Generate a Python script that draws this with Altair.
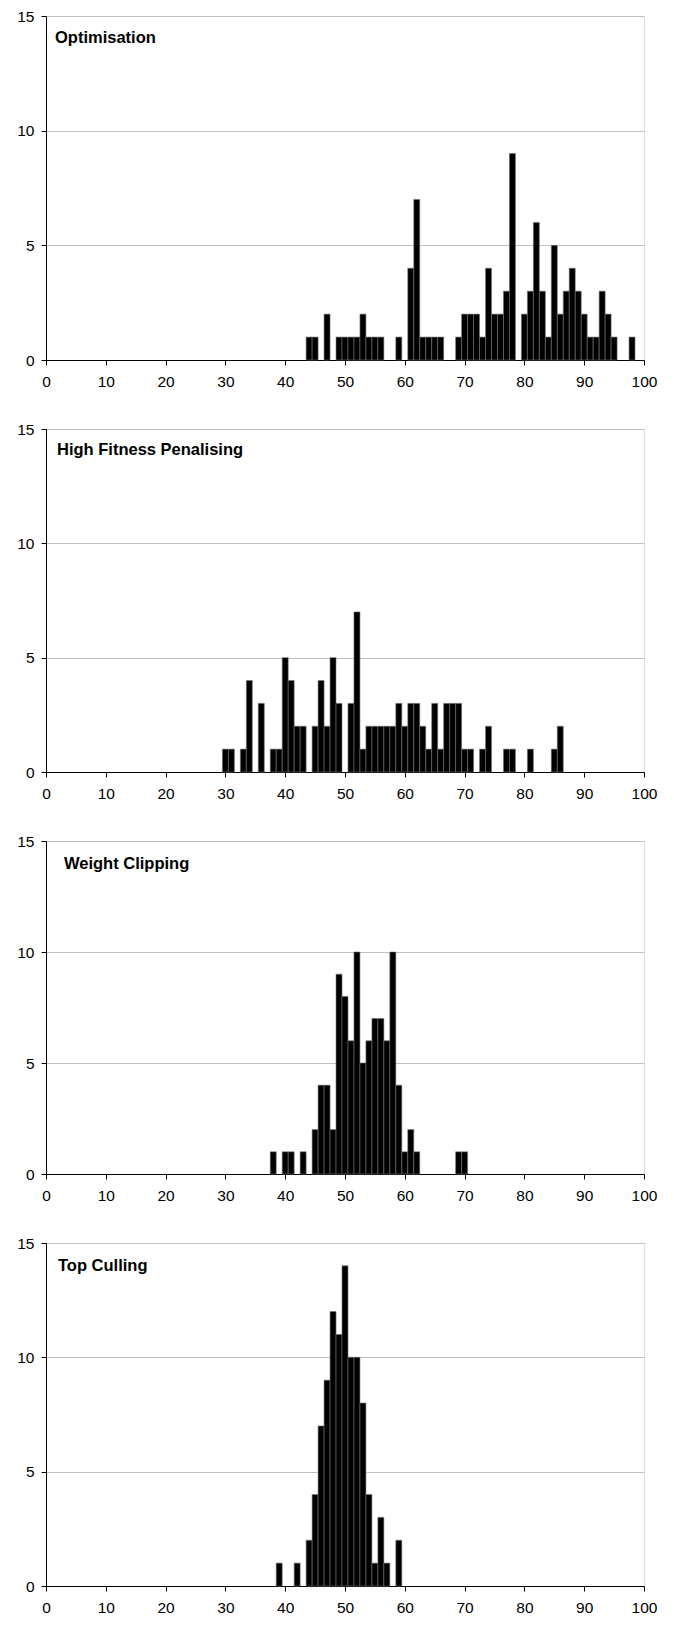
import altair as alt
import pandas as pd

# ---- data ----
opt_bins = [44, 45, 47, 49, 50, 51, 52, 53, 54, 55, 56, 59, 61, 62, 63, 64, 65, 66,
            69, 70, 71, 72, 73, 74, 75, 76, 77, 78, 80, 81, 82, 83, 84, 85, 86, 87,
            88, 89, 90, 91, 92, 93, 94, 95, 98]
opt_counts = [1, 1, 2, 1, 1, 1, 1, 2, 1, 1, 1, 1, 4, 7, 1, 1, 1, 1,
              1, 2, 2, 2, 1, 4, 2, 2, 3, 9, 2, 3, 6, 3, 1, 5, 2, 3,
              4, 3, 2, 1, 1, 3, 2, 1, 1]

hfp_bins = [30, 31, 33, 34, 36, 38, 39, 40, 41, 42, 43, 45, 46, 47, 48, 49, 51, 52,
            53, 54, 55, 56, 57, 58, 59, 60, 61, 62, 63, 64, 65, 66, 67, 68, 69, 70,
            71, 73, 74, 77, 78, 81, 85, 86]
hfp_counts = [1, 1, 1, 4, 3, 1, 1, 5, 4, 2, 2, 2, 4, 2, 5, 3, 3, 7,
              1, 2, 2, 2, 2, 2, 3, 2, 3, 3, 2, 1, 3, 1, 3, 3, 3, 1,
              1, 1, 2, 1, 1, 1, 1, 2]

wc_bins = [38, 40, 41, 43, 45, 46, 47, 48, 49, 50, 51, 52, 53, 54, 55, 56, 57, 58,
           59, 60, 61, 62, 69, 70]
wc_counts = [1, 1, 1, 1, 2, 4, 4, 2, 9, 8, 6, 10, 5, 6, 7, 7, 6, 10,
             4, 1, 2, 1, 1, 1]

tc_bins = [39, 42, 44, 45, 46, 47, 48, 49, 50, 51, 52, 53, 54, 55, 56, 57, 59]
tc_counts = [1, 1, 2, 4, 7, 9, 12, 11, 14, 10, 10, 8, 4, 1, 3, 1, 2]

titles = ["Optimisation", "High Fitness Penalising", "Weight Clipping", "Top Culling"]
x_ticks = [0, 10, 20, 30, 40, 50, 60, 70, 80, 90, 100]
y_ticks = [0, 5, 10, 15]

FONT = "Liberation Sans"

panels = [
    (titles[0], opt_bins, opt_counts, 344, 9, 27),
    (titles[1], hfp_bins, hfp_counts, 343, 11, 26),
    (titles[2], wc_bins, wc_counts, 333, 18, 28),
    (titles[3], tc_bins, tc_counts, 343, 12, 28),
]


def make_panel(title, bins, counts, h, tx, ty):
    df = pd.DataFrame({"bin": bins, "count": counts})
    df["x0"] = df["bin"] - 0.5
    df["x1"] = df["bin"] + 0.5
    df["base"] = 0
    bars = alt.Chart(df).mark_bar(
        color="black", stroke="#707070", strokeWidth=0.6
    ).encode(
        x=alt.X("x0:Q", scale=alt.Scale(domain=[0, 100], nice=False, zero=False),
                axis=alt.Axis(values=x_ticks, grid=False, title=None, format="d",
                              labelFontSize=15.5, labelFont=FONT, labelColor="black",
                              tickSize=5, tickColor="black", domainColor="black",
                              labelPadding=9, labelFlush=False)),
        x2="x1:Q",
        y=alt.Y("count:Q", scale=alt.Scale(domain=[0, 15], nice=False),
                axis=alt.Axis(values=y_ticks, grid=True, gridColor="#c0c0c0",
                              title=None, labelFontSize=15.5, labelFont=FONT,
                              labelColor="black", tickSize=5, tickColor="black",
                              domainColor="black", labelPadding=7)),
        y2="base:Q",
    )
    label = alt.Chart(pd.DataFrame({"t": [title]})).mark_text(
        align="left", baseline="alphabetic", fontWeight="bold",
        fontSize=16.5, font=FONT, color="black"
    ).encode(x=alt.value(tx), y=alt.value(ty), text="t:N")
    return alt.layer(bars, label).properties(width=598, height=h)


chart = alt.vconcat(
    *[make_panel(*p) for p in panels], spacing=31
).properties(
    padding={"left": 8, "top": 0, "right": 5, "bottom": 0}
).configure_view(
    stroke="#505050", strokeWidth=1
).configure(background="white")

chart.save("out.html", embed_options={"renderer": "svg", "actions": False})
